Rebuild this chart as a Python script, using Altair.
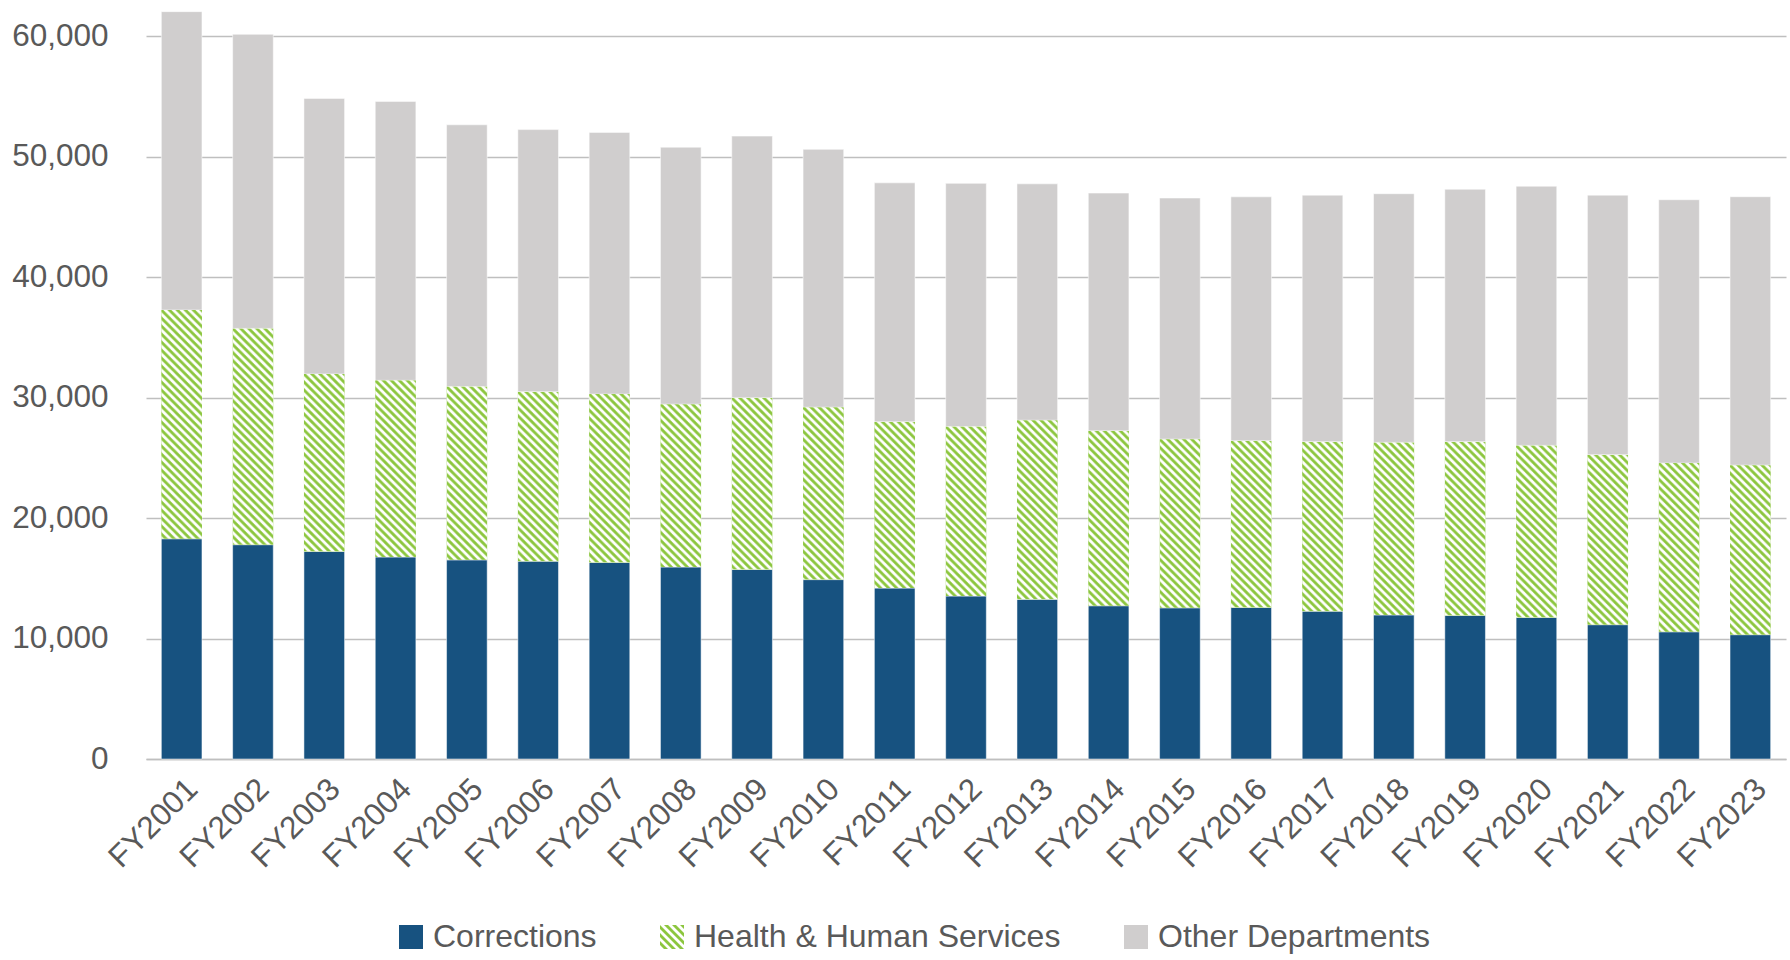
import urllib.parse

import altair as alt
import pandas as pd

# Fiscal years on the x axis
years = [
    "FY2001", "FY2002", "FY2003", "FY2004", "FY2005", "FY2006", "FY2007", "FY2008",
    "FY2009", "FY2010", "FY2011", "FY2012", "FY2013", "FY2014", "FY2015", "FY2016",
    "FY2017", "FY2018", "FY2019", "FY2020", "FY2021", "FY2022", "FY2023",
]

# Headcount by department group (stacked bottom to top)
corrections = [
    18280, 17790, 17230, 16770, 16530, 16420, 16320, 15940,
    15730, 14890, 14190, 13530, 13250, 12720, 12550, 12580,
    12270, 11960, 11920, 11750, 11150, 10560, 10320,
]
health_human_services = [
    18990, 17950, 14730, 14660, 14390, 14070, 13970, 13510,
    14250, 14310, 13800, 14070, 14870, 14520, 14000, 13830,
    14070, 14320, 14420, 14280, 14110, 14000, 14070,
]
other_departments = [
    24760, 24410, 22870, 23150, 21720, 21750, 21720, 21330,
    21720, 21400, 19830, 20180, 19620, 19730, 20010, 20250,
    20460, 20640, 20950, 21510, 21540, 21860, 22280,
]

series_names = ["Corrections", "Health & Human Services", "Other Departments"]
series_values = [corrections, health_human_services, other_departments]
series_colors = ["#175280", "#8CC63E", "#D0CECE"]
y_ticks = [0, 10000, 20000, 30000, 40000, 50000, 60000]

GREEN = "#8CC63E"
TEXT = "#595959"
GRID = "#BFBFBF"
FONT = "Liberation Sans"

# Long table with explicit segment bounds for the stacked bars
rows = []
for i, fy in enumerate(years):
    base = 0
    for name, vals in zip(series_names, series_values):
        rows.append({"year": fy, "series": name, "start": base, "end": base + vals[i]})
        base += vals[i]
df = pd.DataFrame(rows)

# Diagonal hatch texture used to fill the Health & Human Services segments
hatch_svg = (
    "<svg xmlns='http://www.w3.org/2000/svg' width='100%' height='100%'>"
    "<defs><pattern id='p' width='8' height='8' patternUnits='userSpaceOnUse'>"
    "<rect width='8' height='8' fill='#ffffff'/>"
    f"<path d='M-2 -2L10 10M-6 2L2 10M2 -6L10 2' stroke='{GREEN}' stroke-width='2.83'/>"
    "</pattern></defs><rect width='100%' height='100%' fill='url(#p)'/></svg>"
)
hatch_uri = "data:image/svg+xml," + urllib.parse.quote(hatch_svg)


# Striped square glyph (unit box [-1, 1]) for the hatched legend swatch
def _clip(poly, axis, bound, keep_greater):
    out = []
    for i in range(len(poly)):
        cur, prev = poly[i], poly[i - 1]
        cin = cur[axis] >= bound if keep_greater else cur[axis] <= bound
        pin = prev[axis] >= bound if keep_greater else prev[axis] <= bound
        if cin != pin:
            t = (bound - prev[axis]) / (cur[axis] - prev[axis])
            out.append((prev[0] + t * (cur[0] - prev[0]), prev[1] + t * (cur[1] - prev[1])))
        if cin:
            out.append(cur)
    return out


def striped_square(period=8 / 12):
    parts = []
    half = period / 2
    c = -2.0 - period
    while c < 2.0:
        band = [(-3, c - 3), (3, c + 3), (3, c + half + 3), (-3, c + half - 3)]
        for axis, bound, keep in ((0, -1, True), (0, 1, False), (1, -1, True), (1, 1, False)):
            band = _clip(band, axis, bound, keep)
            if not band:
                break
        if len(band) >= 3:
            parts.append("M" + "L".join(f"{x:.3f},{y:.3f}" for x, y in band) + "Z")
        c += period
    return "".join(parts)


series_shapes = ["square", striped_square(), "square"]

legend = alt.Legend(
    title=None, orient="none", legendX=249, legendY=915,
    direction="horizontal", symbolSize=576, symbolStrokeWidth=0,
    labelFontSize=32, labelColor=TEXT, labelOffset=6, columnPadding=59,
    labelLimit=600,
)

x_enc = alt.X(
    "year:N",
    sort=years,
    scale=alt.Scale(paddingInner=0.43, paddingOuter=0.215),
    axis=alt.Axis(
        title=None, labelAngle=-45, labelFontSize=31.5, labelColor=TEXT,
        ticks=False, domain=True, domainColor=GRID, domainWidth=1.5,
        labelPadding=14, grid=False,
    ),
)
y_scale = alt.Scale(domain=[0, 62500], nice=False)
color_scale = alt.Scale(domain=series_names, range=series_colors)

bars = alt.Chart(df).mark_bar(stroke="white", strokeWidth=1, strokeOpacity=0.5).encode(
    x=x_enc,
    y=alt.Y(
        "start:Q",
        scale=y_scale,
        axis=alt.Axis(
            title=None, values=y_ticks, format=",.0f", labelFontSize=31.5,
            labelColor=TEXT, ticks=False, domain=False, gridColor=GRID,
            gridWidth=1.5, labelPadding=38,
        ),
    ),
    y2="end:Q",
    color=alt.Color("series:N", sort=series_names, scale=color_scale, legend=legend),
)

hatch = (
    alt.Chart(df)
    .transform_filter(alt.datum.series == "Health & Human Services")
    .mark_image(url=hatch_uri, aspect=False, width={"band": 1})
    .encode(x=alt.X("year:N", sort=years), y=alt.Y("start:Q", scale=y_scale), y2="end:Q")
)

# Empty point layer that only contributes glyph shapes to the shared legend
legend_glyphs = (
    alt.Chart(df)
    .transform_filter("false")
    .mark_point(filled=True, opacity=1)
    .encode(
        color=alt.Color("series:N", sort=series_names, scale=color_scale, legend=legend),
        shape=alt.Shape(
            "series:N", sort=series_names,
            scale=alt.Scale(domain=series_names, range=series_shapes), legend=legend,
        ),
    )
)

chart = (
    alt.layer(bars, hatch, legend_glyphs)
    .properties(
        width=1640,
        height=753,
        padding={"left": 146, "top": 6, "right": 4, "bottom": 201},
        autosize=alt.AutoSizeParams(type="none"),
    )
    .configure_view(stroke=None)
    .configure_axis(labelFont=FONT)
    .configure_legend(labelFont=FONT)
)

chart.save("out.html", embed_options={"renderer": "svg", "actions": False})
